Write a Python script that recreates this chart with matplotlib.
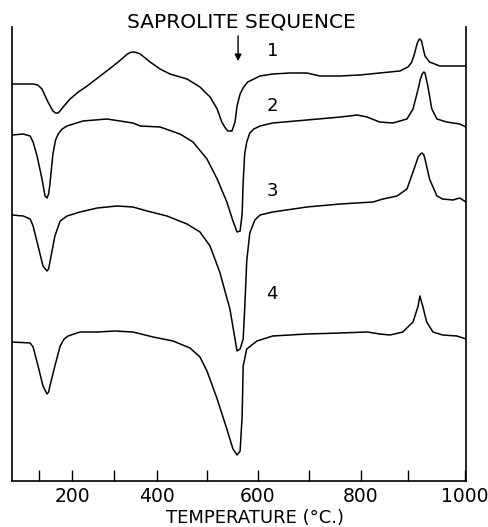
import numpy as np
import matplotlib
matplotlib.use('Agg')
import matplotlib.pyplot as plt

# DTA curves, saprolite sequence (temperature in deg C, deflection in arbitrary units)
curve1_t = [18, 82, 96, 109, 127, 142, 150, 158, 166, 173, 194, 215, 236, 267, 298, 318, 331, 338,
            345, 352, 361, 384, 406, 426, 460, 486, 506, 520, 529, 536, 541, 549, 555, 559, 565,
            572, 580, 604, 629, 663, 696, 721, 760, 798, 840, 883, 900, 906, 911, 916, 919, 921,
            924, 927, 930, 938, 956, 1002]
curve1_d = [0, 0, -1, -5, -18, -27, -29, -29, -26, -23, -15, -8, -2, 8, 18, 25, 30, 31.5,
            32, 31.5, 30, 22, 15, 10, 5, -3, -13, -25, -38, -44, -47, -47, -38, -22, -10,
            -3, 2, 8, 10, 11, 11, 8, 8, 9, 11, 13, 17, 21, 29, 40, 44, 45,
            43, 35, 28, 22, 18, 18]

curve2_t = [18, 52, 73, 82, 94, 109, 118, 124, 129, 133, 142, 150, 158, 170, 185, 226, 283, 314,
            344, 361, 406, 446, 472, 500, 520, 539, 551, 559, 565, 569, 571, 574, 578, 584, 592,
            604, 629, 696, 761, 793, 813, 840, 868, 898, 909, 918, 922, 925, 928, 930, 935, 942,
            951, 968, 991, 1002]
curve2_d = [0, 1, -1, -7, -21, -44, -61, -63, -59, -49, -19, -5, 1, 6, 9, 14, 16, 14,
            12, 9, 8, 1, -7, -24, -44, -67, -86, -97, -96, -79, -47, -19, -7, 2, 6,
            9, 12, 15, 18, 20, 18, 13, 12, 16, 26, 46, 56, 61, 63, 62, 49, 26,
            16, 13, 11, 8]

curve3_t = [18, 52, 73, 82, 97, 112, 124, 129, 133, 148, 164, 185, 219, 260, 307, 344, 377,
            420, 460, 486, 506, 525, 545, 555, 559, 565, 571, 574, 578, 584, 594, 604, 629,
            696, 760, 826, 847, 877, 898, 909, 918, 922, 925, 928, 930, 938, 951, 961, 979,
            991, 1002]
curve3_d = [0, -1, -4, -11, -31, -51, -56, -54, -47, -21, -6, -1, 3, 7, 9, 8, 4,
            -1, -9, -17, -31, -57, -94, -124, -136, -134, -124, -94, -46, -18, -5, 0, 3,
            8, 11, 13, 16, 19, 26, 43, 58, 61, 62, 60, 56, 36, 19, 16, 15,
            17, 13]

curve4_t = [18, 73, 82, 97, 112, 124, 129, 133, 148, 164, 176, 188, 219, 260, 302, 344, 391,
            432, 466, 486, 500, 520, 539, 551, 559, 565, 569, 571, 578, 598, 629, 696, 760,
            814, 840, 862, 889, 909, 918, 921, 926, 933, 944, 961, 986, 1002]
curve4_d = [0, -1, -5, -24, -44, -52, -50, -44, -24, -4, 3, 6, 10, 10, 11, 10, 5,
            1, -6, -15, -29, -57, -87, -107, -113, -109, -74, -24, -7, 1, 6, 8, 9,
            10, 8, 7, 10, 20, 36, 46, 36, 20, 10, 7, 6, 3]

curves = [(curve1_t, curve1_d), (curve2_t, curve2_d), (curve3_t, curve3_d), (curve4_t, curve4_d)]
offsets = [397, 346, 266, 139]
labels = ['1', '2', '3', '4']
label_t = [629, 629, 629, 627]
label_y = [430, 375, 290, 187]

# non-linear temperature scale of the recorder chart
scale_t = [0, 100, 200, 300, 400, 500, 600, 700, 800, 900, 1000, 1100]
scale_p = [6, 39, 72, 114, 157, 207, 258, 309, 361, 408, 465, 522]

def forward(t):
    return np.interp(t, scale_t, scale_p)

def inverse(p):
    return np.interp(p, scale_p, scale_t)

plt.rcParams['font.family'] = ['DejaVu Sans']

fig = plt.figure(figsize=(4.89, 5.27), dpi=100)
ax = fig.add_axes([12 / 489, 1 - 481 / 527, 454 / 489, 454 / 527])
ax.set_xscale('function', functions=(forward, inverse))

for (t, d), off in zip(curves, offsets):
    ax.plot(t, np.array(d) + off, color='black', lw=1.1,
            solid_joinstyle='round', solid_capstyle='round')

for lab, t, y in zip(labels, label_t, label_y):
    ax.text(t, y, lab, fontsize=13, ha='center', va='center')

# arrow marking the main endotherm
ax.annotate('', xy=(561, 417), xytext=(561, 448),
            arrowprops=dict(arrowstyle='-|>', color='black', lw=1.0, mutation_scale=10))

ax.set_xlim(18, 1002)
ax.set_ylim(0, 454)

ticks = [100, 200, 300, 400, 500, 600, 700, 800, 900, 1000]
ax.set_xticks(ticks)
ax.set_xticklabels([str(t) if t % 200 == 0 else '' for t in ticks], fontsize=13.5)
ax.tick_params(axis='x', direction='in', length=8, width=1, pad=4)
ax.set_yticks([])
ax.spines['top'].set_visible(False)
for s in ['left', 'right', 'bottom']:
    ax.spines[s].set_linewidth(1.2)

ax.set_xlabel('TEMPERATURE (°C.)', fontsize=13)
ax.xaxis.set_label_coords((255 - 12) / 454, -0.062)

fig.text(241 / 489, 1 - 22 / 527, 'SAPROLITE SEQUENCE', fontsize=14.5, ha='center', va='center')

plt.savefig('out.png', dpi=100)
